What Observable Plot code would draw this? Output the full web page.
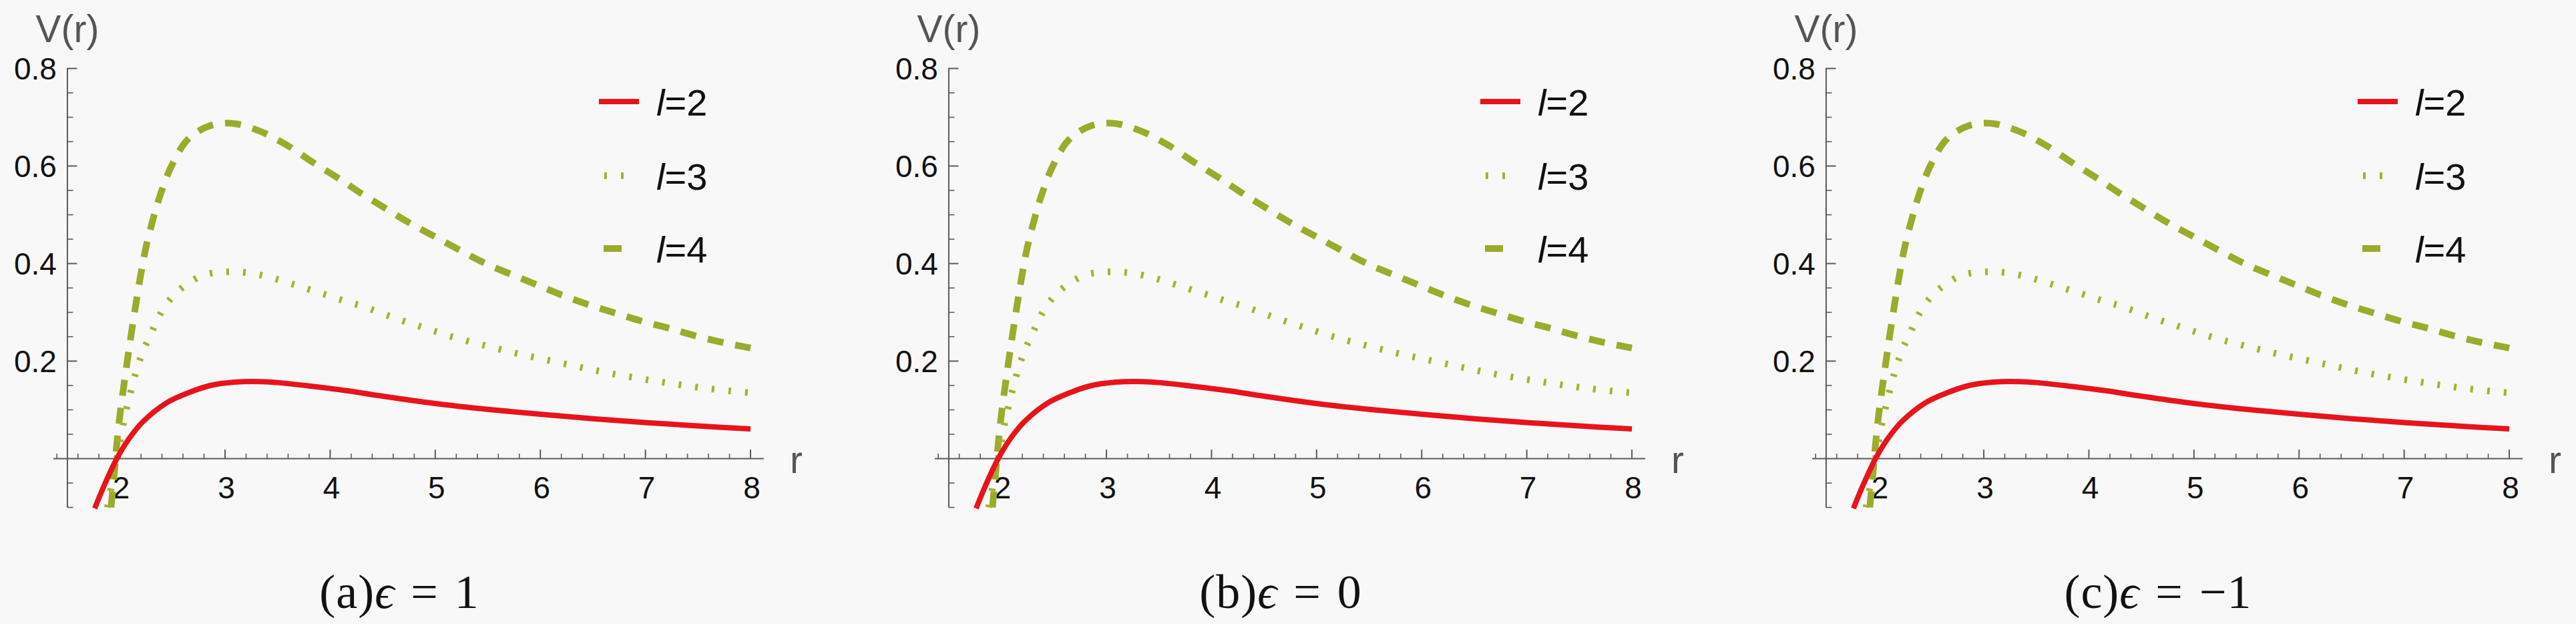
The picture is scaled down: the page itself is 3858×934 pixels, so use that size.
<!DOCTYPE html>
<html>
<head>
<meta charset="utf-8">
<script src="https://cdn.jsdelivr.net/npm/d3@7"></script>
<script src="https://cdn.jsdelivr.net/npm/@observablehq/plot@0.6"></script>
<style>
  html, body { margin: 0; padding: 0; background: #f8f8f8; }
  body { width: 3858px; height: 934px; overflow: hidden; position: relative; font-family: "Liberation Sans", Arial, sans-serif; }
  .panel { position: absolute; top: 0; width: 1236px; height: 934px; }
  .panel svg.plot { display: block; }
  .legend { position: absolute; left: 890px; top: 100px; width: 240px; height: 320px; overflow: visible; }
  .caption { position: absolute; left: 0; top: 850px; width: 1196px; text-align: center;
             font-family: "Liberation Serif", "Times New Roman", serif; font-size: 72px; line-height: 1; color: #111; letter-spacing: 1px; }
  .caption .eq { margin: 0 24px; }
</style>
</head>
<body>
<script>
// ---------------- data ----------------
// l = 2 (solid red)
const rL2 = [1.76, 1.85, 1.97, 2.08, 2.22, 2.44, 2.65, 2.86, 3.0, 3.17, 3.35, 3.5, 3.8, 4.17, 4.5, 5.0, 5.5, 6.0, 6.5, 7.0, 7.5, 8.0];
const vL2 = [-0.102, -0.055, 0.0, 0.039, 0.076, 0.114, 0.135, 0.150, 0.155, 0.158, 0.158, 0.156, 0.149, 0.139, 0.128, 0.113, 0.101, 0.091, 0.082, 0.074, 0.067, 0.061];
// l = 3 (dotted)
const rL3 = [1.88, 1.97, 2.03, 2.1, 2.17, 2.235, 2.3, 2.36, 2.44, 2.54, 2.66, 2.79, 2.94, 3.1, 3.25, 3.41, 3.55, 3.7, 3.84, 3.99, 4.14, 4.3, 4.58, 4.87, 5.16, 5.47, 5.77, 6.07, 6.37, 6.66, 6.98, 7.28, 7.58, 7.89, 8.0];
const vL3 = [-0.1, 0.0, 0.07, 0.135, 0.19, 0.228, 0.258, 0.287, 0.316, 0.341, 0.361, 0.376, 0.382, 0.383, 0.380, 0.373, 0.364, 0.354, 0.344, 0.334, 0.323, 0.313, 0.291, 0.270, 0.250, 0.232, 0.216, 0.202, 0.188, 0.175, 0.163, 0.153, 0.144, 0.137, 0.135];
// l = 4 (dashed)
const rL4 = [1.915, 1.95, 1.97, 2.0, 2.05, 2.1, 2.15, 2.2, 2.25, 2.32, 2.39, 2.49, 2.63, 2.75, 2.86, 3.0, 3.12, 3.25, 3.38, 3.61, 3.84, 4.07, 4.28, 4.52, 4.75, 4.98, 5.23, 5.46, 5.71, 5.96, 6.21, 6.47, 6.72, 6.98, 7.23, 7.49, 7.76, 8.0];
const vL4 = [-0.1, -0.02, 0.03, 0.09, 0.17, 0.245, 0.315, 0.38, 0.436, 0.495, 0.545, 0.60, 0.651, 0.672, 0.683, 0.688, 0.686, 0.678, 0.667, 0.640, 0.607, 0.576, 0.546, 0.514, 0.484, 0.457, 0.428, 0.402, 0.379, 0.357, 0.335, 0.315, 0.298, 0.281, 0.267, 0.251, 0.237, 0.227];

const lValues = [2, 3, 4];
const panelLetters = ["a", "b", "c"];
const epsilonValues = ["1", "0", "\u22121"];

const xMajorTicks = [2, 3, 4, 5, 6, 7, 8];
const xMinorTicks = [1.4, 1.6, 1.8, 2.2, 2.4, 2.6, 2.8, 3.2, 3.4, 3.6, 3.8, 4.2, 4.4, 4.6, 4.8, 5.2, 5.4, 5.6, 5.8, 6.2, 6.4, 6.6, 6.8, 7.2, 7.4, 7.6, 7.8];
const yMajorTicks = [0.2, 0.4, 0.6, 0.8];
const yMinorTicks = [-0.1, -0.05, 0.05, 0.1, 0.15, 0.25, 0.3, 0.35, 0.45, 0.5, 0.55, 0.65, 0.7, 0.75];

// ---------------- styles / layout ----------------
const seriesStyle = {
  2: {stroke: "#e8131b", strokeWidth: 8, dash: null, legend: [7, 67]},
  3: {stroke: "#a6b22c", strokeWidth: 10, dash: "4 21", legend: [15, 45]},
  4: {stroke: "#9bab2b", strokeWidth: 10, dash: "24 18", legend: [14, 41]}
};
const panelLeft = [0, 1320, 2634];
const axisColor = "#5a5a5a";

const series = {
  2: d3.zip(rL2, vL2).map(([r, v]) => ({r, v})),
  3: d3.zip(rL3, vL3).map(([r, v]) => ({r, v})),
  4: d3.zip(rL4, vL4).map(([r, v]) => ({r, v}))
};

function makePlot() {
  const lineMarks = [4, 3, 2].map(l => Plot.line(series[l], {
    x: "r", y: "v", curve: "catmull-rom",
    stroke: seriesStyle[l].stroke, strokeWidth: seriesStyle[l].strokeWidth,
    strokeDasharray: seriesStyle[l].dash, strokeLinecap: "butt"
  }));
  return Plot.plot({
    width: 1230, height: 800,
    marginLeft: 80, marginRight: 86, marginTop: 102, marginBottom: 41,
    x: {domain: [1.37, 8.13], axis: null},
    y: {domain: [-0.1, 0.8], axis: null},
    style: {background: "transparent", overflow: "visible", fontFamily: "Liberation Sans, Arial, sans-serif"},
    marks: [
      // axis lines
      Plot.ruleY([0], {x1: 1.37, x2: 8.13, stroke: axisColor, strokeWidth: 2}),
      Plot.ruleX([1.5], {y1: -0.1, y2: 0.8, stroke: axisColor, strokeWidth: 2}),
      // x ticks (pointing up)
      Plot.ruleX(xMajorTicks, {x: d => d, y1: 0, y2: 0, insetTop: -13, stroke: axisColor, strokeWidth: 2}),
      Plot.ruleX(xMinorTicks, {x: d => d, y1: 0, y2: 0, insetTop: -7, stroke: axisColor, strokeWidth: 1.6}),
      // y ticks (pointing right)
      Plot.ruleY(yMajorTicks, {y: d => d, x1: 1.5, x2: 1.5, insetRight: -15, stroke: axisColor, strokeWidth: 2}),
      Plot.ruleY(yMinorTicks, {y: d => d, x1: 1.5, x2: 1.5, insetRight: -9, stroke: axisColor, strokeWidth: 1.6}),
      // tick labels
      Plot.text(xMajorTicks, {x: d => d, y: 0, dy: 45, dx: 2, text: d => String(d), fontSize: 46, fill: "#111"}),
      Plot.text(yMajorTicks, {x: 1.5, y: d => d, dx: -16, dy: 2, textAnchor: "end", text: d => d.toFixed(1), fontSize: 46, fill: "#111"}),
      // axis labels
      Plot.text(["V(r)"], {x: 1.5, y: 0.8, dy: -58, text: d => d, fontSize: 57, fill: "#555"}),
      Plot.text(["r"], {x: 8.13, y: 0, dx: 48, dy: 3, text: d => d, fontSize: 57, fill: "#555"}),
      ...lineMarks
    ]
  });
}

function makeLegend() {
  const svg = d3.create("svg").attr("class", "legend").attr("width", 240).attr("height", 320);
  const rowY = [52, 163, 272];
  lValues.forEach((l, i) => {
    const st = seriesStyle[l];
    svg.append("line")
      .attr("x1", st.legend[0]).attr("x2", st.legend[1])
      .attr("y1", rowY[i]).attr("y2", rowY[i])
      .attr("stroke", st.stroke).attr("stroke-width", st.strokeWidth)
      .attr("stroke-dasharray", l === 3 ? st.dash : null)
      .attr("stroke-linecap", "butt");
    const t = svg.append("text")
      .attr("x", 93).attr("y", rowY[i] + 21)
      .attr("font-family", "Liberation Sans, Arial, sans-serif")
      .attr("font-size", 56).attr("fill", "#111");
    t.append("tspan").attr("font-style", "italic").text("l");
    t.append("tspan").text("=" + l);
  });
  return svg.node();
}

panelLetters.forEach((letter, i) => {
  const panel = document.createElement("div");
  panel.className = "panel";
  panel.style.left = panelLeft[i] + "px";
  const plot = makePlot();
  plot.classList.add("plot");
  panel.appendChild(plot);
  panel.appendChild(makeLegend());
  const cap = document.createElement("div");
  cap.className = "caption";
  cap.innerHTML = "(" + letter + ")<i>\u03f5</i><span class=\"eq\">=</span>" + epsilonValues[i];
  panel.appendChild(cap);
  document.body.appendChild(panel);
});
</script>
</body>
</html>
